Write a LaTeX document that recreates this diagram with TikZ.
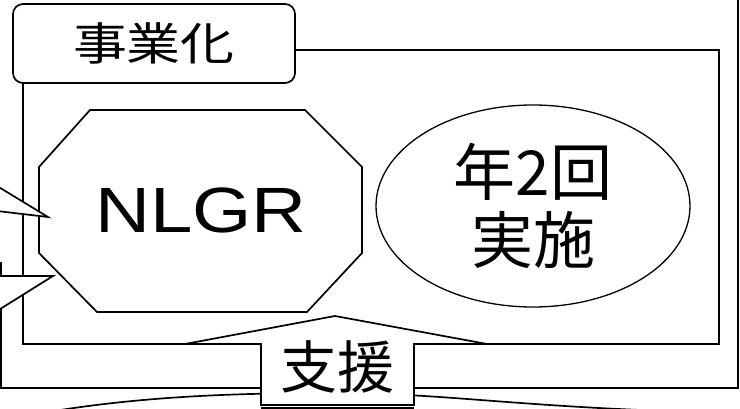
\documentclass[tikz,border=0pt]{standalone}
\usepackage{fontspec}
\setmainfont{Liberation Sans}
\newfontfamily\jp{Noto Sans CJK JP}
\newfontfamily\jpwide[FakeStretch=1.2]{Noto Sans CJK JP}
\newfontfamily\latinwide[FakeStretch=1.19]{Liberation Sans}
\usetikzlibrary{shapes.geometric,positioning}

\begin{document}
\begin{tikzpicture}[x=1pt,y=-1pt,
    rim/.style={line width=1.7pt,line join=miter},
    bubble/.style={rim,fill=white}]
      \clip (0,0) rectangle (740,409);
      \fill[white] (0,0) rectangle (740,409);
      % frames
      \draw[rim] (1,262) -- (1,388) -- (738,388) -- (738,-5);
      \draw[rim] (23,83) -- (23,344) -- (719,344) -- (719,50) -- (295,50);
      \draw[rim] (48,412) .. controls (150,395) and (250,393) .. (335,393)
                 .. controls (430,393) and (500,404) .. (640,410);
      % octagon
      \draw[bubble] (90,110) -- (305,110) -- (362,167) -- (362,253) -- (307,312)
                    -- (97,312) -- (39,253) -- (39,167) -- cycle;
      \node[font=\latinwide\fontsize{64}{70}\selectfont] (nlgr) at (201,210) {NLGR};
      \node[draw,ellipse,line width=1.3pt,minimum width=314pt,minimum height=202pt,inner sep=0pt] (kaisu) at (533,206) {};
      \node[font=\jp\fontsize{62}{68}\selectfont,align=center] (kaisutxt) at (kaisu.center) {年2回\\実施};
      % callouts
      \draw[bubble] (-3,186) -- (48,217) -- (-3,211) -- cycle;
      \draw[bubble] (-3,276) -- (53,276) -- (-3,311) -- cycle;
      % arrow
      \draw[bubble] (185,344) -- (335,316) -- (487,344) -- (414,344) -- (414,405)
                    -- (261,405) -- (261,344) -- cycle;
      \draw[rim] (261,408) -- (414,408);
      \node[font=\jp\fontsize{57}{60}\selectfont] (shien) at (337,367) {支援};
      \node[draw,rim,fill=white,rounded corners=10pt,minimum width=282pt,minimum height=79pt,
            font=\jpwide\fontsize{45}{50}\selectfont] (jigyo) at (154,43.5) {事業化};
    \end{tikzpicture}
\end{document}
